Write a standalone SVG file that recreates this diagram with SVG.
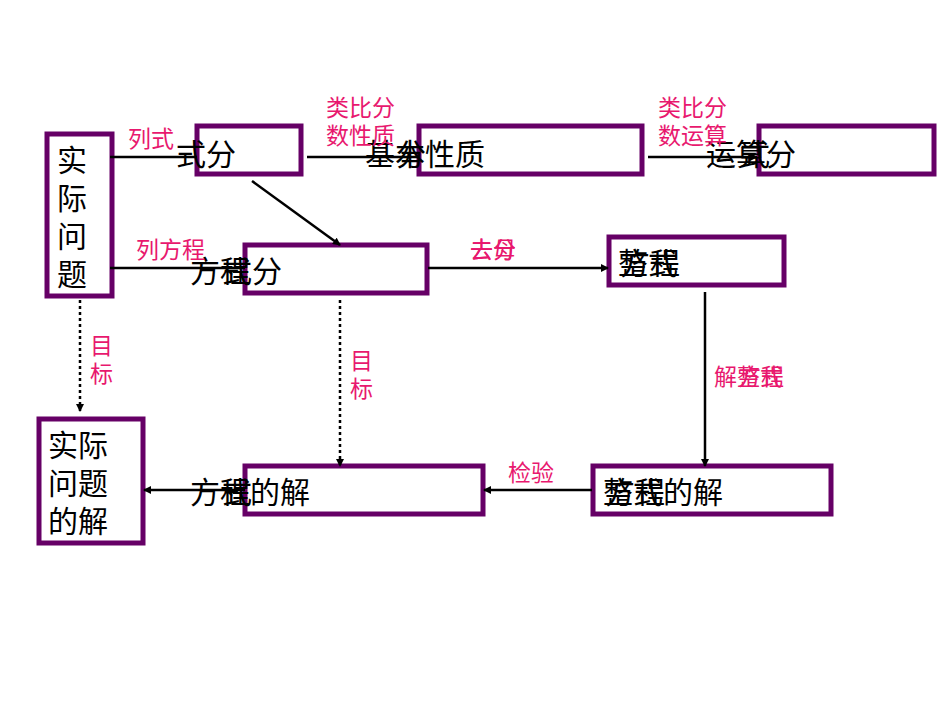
<svg xmlns="http://www.w3.org/2000/svg" width="950" height="713" viewBox="0 0 950 713">
<style>
.b{fill:#fff;stroke:#660066;stroke-width:5}
.t{font-family:"Noto Sans CJK SC",sans-serif;font-size:30px;fill:#000}
.p{font-family:"Noto Sans CJK SC",sans-serif;font-size:23px;fill:#e8186e}
.c{stroke:#000;stroke-width:2.5;fill:none}
.d{stroke:#000;stroke-width:2.5;fill:none;stroke-dasharray:3 3}
</style>
<defs><marker id="a" markerWidth="8" markerHeight="8" refX="7" refY="4" orient="auto" markerUnits="userSpaceOnUse"><path d="M0,0L8,4L0,8z" fill="#000"/></marker></defs>
<rect width="950" height="713" fill="#fff"/>
<g id="n1"><rect class="b" x="47" y="134" width="65" height="162"/><text class="t" x="57" y="171">实</text><text class="t" x="57" y="209">际</text><text class="t" x="57" y="247">问</text><text class="t" x="57" y="285">题</text></g>
<g id="n2"><rect class="b" x="197" y="126" width="104" height="48"/></g>
<g id="n3"><rect class="b" x="419" y="126" width="223" height="48"/></g>
<g id="n4"><rect class="b" x="759" y="126" width="175" height="48"/></g>
<g id="n5"><rect class="b" x="245" y="245" width="182" height="48"/></g>
<g id="n6"><rect class="b" x="609" y="237" width="175" height="48"/></g>
<g id="n7"><rect class="b" x="39" y="419" width="104" height="124"/><text class="t" x="48" y="456">实际</text><text class="t" x="48" y="494">问题</text><text class="t" x="48" y="532">的解</text></g>
<g id="n8"><rect class="b" x="245" y="466" width="238" height="48"/></g>
<g id="n9"><rect class="b" x="593" y="466" width="238" height="48"/></g>
<g id="connectors">
<line class="c" x1="110" y1="157" x2="197" y2="157"/>
<line class="c" x1="307" y1="157" x2="419" y2="157"/>
<line class="c" x1="648" y1="157" x2="757" y2="157" marker-end="url(#a)"/>
<line class="c" x1="252" y1="181" x2="340" y2="245" marker-end="url(#a)"/>
<line class="c" x1="110" y1="268" x2="245" y2="268"/>
<line class="c" x1="428" y1="268" x2="608" y2="268" marker-end="url(#a)"/>
<line class="d" x1="80" y1="300" x2="80" y2="411" marker-end="url(#a)"/>
<line class="d" x1="340" y1="300" x2="340" y2="466" marker-end="url(#a)"/>
<line class="c" x1="705" y1="292" x2="705" y2="466" marker-end="url(#a)"/>
<line class="c" x1="592" y1="490" x2="484" y2="490" marker-end="url(#a)"/>
<line class="c" x1="245" y1="490" x2="144" y2="490" marker-end="url(#a)"/>
</g>
<g id="labels">
<text class="t" x="176" y="165">式分</text>
<text class="t" x="365" y="165">基本性质</text><text class="t" x="396" y="165">分</text>
<text class="t" x="706" y="165">运算</text><text class="t" x="766" y="165">分</text><text class="t" x="740" y="165">式</text>
<text class="t" x="190" y="282">方程</text><text class="t" x="222" y="282">式分</text>
<text class="t" x="618" y="274">整式</text><text class="t" x="620" y="274">方程</text>
<text class="t" x="190" y="503">方程的解</text><text class="t" x="222" y="503">式</text>
<text class="t" x="603" y="503">整式的解</text><text class="t" x="605" y="503">方程</text>
<text class="p" x="128" y="147">列式</text>
<text class="p" x="326" y="116">类比分</text><text class="p" x="326" y="144">数性质</text>
<text class="p" x="658" y="116">类比分</text><text class="p" x="658" y="144">数运算</text>
<text class="p" x="136" y="258">列方程</text>
<text class="p" x="470" y="258">去母</text><text class="p" x="470" y="258">去分</text>
<text class="p" x="90" y="354">目</text><text class="p" x="90" y="382">标</text>
<text class="p" x="350" y="369">目</text><text class="p" x="350" y="397">标</text>
<text class="p" x="714" y="385">解整式</text><text class="p" x="738" y="385">方程</text>
<text class="p" x="508" y="481">检验</text>
</g>
</svg>
